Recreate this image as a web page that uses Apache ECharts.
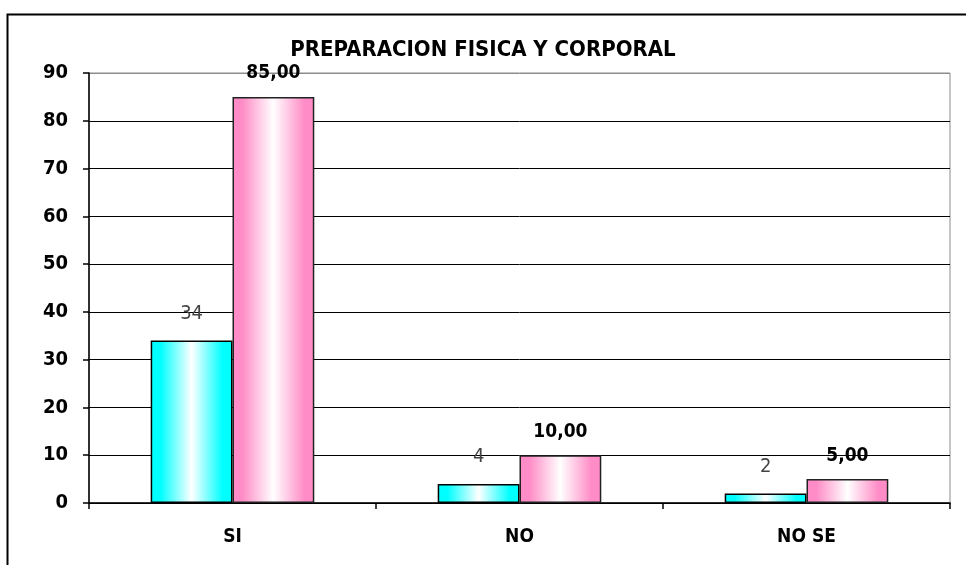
<!DOCTYPE html>
<html>
<head>
<meta charset="utf-8">
<title>PREPARACION FISICA Y CORPORAL</title>
<script src="https://cdn.jsdelivr.net/npm/echarts@6/dist/echarts.min.js"></script>
<style>
  html, body { margin: 0; padding: 0; background: #fff; }
  #chart { width: 966px; height: 565px; }
</style>
</head>
<body>
<div id="chart"></div>
<script>
const categories = ['SI', 'NO', 'NO SE']
const cantidad = [34, 4, 2]
const porcentaje = [85, 10, 5]
const yMax = 90
const yStep = 10

const font = "'DejaVu Sans Condensed', 'Liberation Sans Narrow', 'DejaVu Sans', sans-serif"

// degradado tipo excel: borde de color, centro blanco
function shade(color) {
  return new echarts.graphic.LinearGradient(0, 0, 1, 0, [
    { offset: 0, color: color },
    { offset: 0.12, color: color },
    { offset: 0.5, color: '#ffffff' },
    { offset: 0.88, color: color },
    { offset: 1, color: color }
  ])
}

const chart = echarts.init(document.getElementById('chart'))
// la linea de 90 coincide con el borde gris del area
const splitColors = []
for (let v = 0; v <= yMax; v += yStep) splitColors.push(v === yMax ? '#8c8c8c' : '#000')

const option = {
  animation: false,
  title: {
    text: 'PREPARACION FISICA Y CORPORAL',
    left: 'center',
    top: 34,
    textStyle: { fontFamily: font, fontSize: 22, fontWeight: 'bold', color: '#000' }
  },
  graphic: [{
    type: 'rect',
    left: 5,
    top: 12,
    shape: { width: 1000, height: 600 },
    style: { fill: 'none', stroke: '#000', lineWidth: 2 }
  }],
  grid: {
    left: 89,
    right: 16,
    top: 73,
    bottom: 62,
    show: true,
    borderColor: '#8c8c8c',
    borderWidth: 1
  },
  xAxis: {
    type: 'category',
    data: categories,
    axisLine: { lineStyle: { color: '#000', width: 1.5 } },
    axisTick: { show: true, length: 6, lineStyle: { color: '#000', width: 1.5 } },
    axisLabel: { margin: 25, fontFamily: font, fontSize: 19, fontWeight: 'bold', color: '#000' }
  },
  yAxis: {
    type: 'value',
    min: 0,
    max: yMax,
    interval: yStep,
    axisLine: { show: true, lineStyle: { color: '#000', width: 1.5 } },
    axisTick: { show: true, length: 6, lineStyle: { color: '#000', width: 1.5 } },
    axisLabel: { margin: 21, fontFamily: font, fontSize: 20, fontWeight: 'bold', color: '#000' },
    splitLine: { show: true, lineStyle: { color: splitColors, width: 1 } }
  },
  series: [
    {
      name: 'cantidad',
      type: 'bar',
      data: cantidad,
      barGap: '0%',
      barCategoryGap: '43%',
      itemStyle: { color: shade('#00ffff'), borderColor: '#000', borderWidth: 1.5 },
      label: {
        show: true,
        position: 'top',
        distance: 17,
        fontFamily: font,
        fontSize: 20,
        fontWeight: 'normal',
        color: '#444'
      }
    },
    {
      name: 'porcentaje',
      type: 'bar',
      data: porcentaje,
      itemStyle: { color: shade('#ff8cc6'), borderColor: '#222', borderWidth: 1.5 },
      label: {
        show: true,
        position: 'top',
        distance: 14,
        fontFamily: font,
        fontSize: 19,
        fontWeight: 'bold',
        color: '#000',
        formatter: p => p.value.toFixed(2).replace('.', ',')
      }
    }
  ]
}
chart.setOption(option)
</script>
</body>
</html>
